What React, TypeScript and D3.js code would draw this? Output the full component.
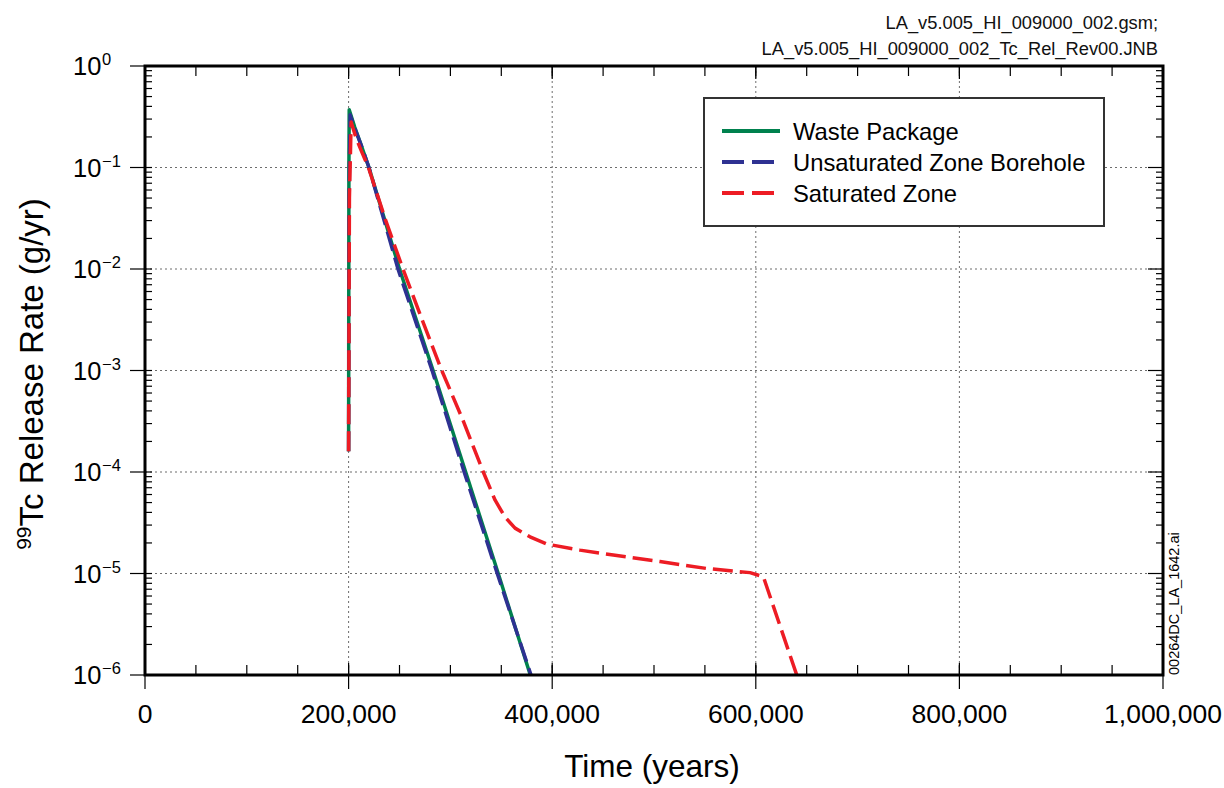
import React from "react";
import * as d3 from "d3";

// ---- data ----
const xTickValues = [0, 200000, 400000, 600000, 800000, 1000000];
const xTickLabels = ["0", "200,000", "400,000", "600,000", "800,000", "1,000,000"];
const yDecades = [0, -1, -2, -3, -4, -5, -6];
const yExponentLabels = ["0", "\u22121", "\u22122", "\u22123", "\u22124", "\u22125", "\u22126"];

const wasteTime = [200000, 200300, 200600, 206000, 212000, 220000, 250000, 283000, 315000, 347000, 378500];
const wasteRate = [1.6e-4, 0.1, 0.37, 0.25, 0.17, 0.1, 0.01, 1e-3, 1e-4, 1e-5, 1e-6];

const uzTime = [200000, 200500, 201500, 207000, 213000, 220000, 248500, 282000, 313500, 346000, 379200];
const uzRate = [1.6e-4, 0.05, 0.33, 0.23, 0.16, 0.1, 0.01, 1e-3, 1e-4, 1e-5, 1e-6];

const szTime = [
  200000, 200800, 202500, 207000, 212000, 219500, 236000, 253400, 272000, 291500,
  312000, 332300, 343800, 353600, 363500, 378200, 394600, 427300, 460000, 505900,
  551800, 594300, 607400, 640200, 645000,
];
const szRate = [
  1.6e-4, 0.05, 0.28, 0.2, 0.15, 0.1, 0.031, 0.01, 3.2e-3, 1e-3,
  3.3e-4, 1e-4, 5.3e-5, 3.6e-5, 2.8e-5, 2.3e-5, 1.95e-5, 1.7e-5, 1.52e-5, 1.31e-5,
  1.12e-5, 1.02e-5, 9.3e-6, 1e-6, 7.2e-7,
];

const seriesNames = ["Waste Package", "Unsaturated Zone Borehole", "Saturated Zone"];
const headerLines = ["LA_v5.005_HI_009000_002.gsm;", "LA_v5.005_HI_009000_002_Tc_Rel_Rev00.JNB"];

const FONT = "'Liberation Sans', Arial, Helvetica, sans-serif";

export default function App() {
  const W = 1224;
  const H = 788;
  const left = 145, right = 1163, top = 66, bottom = 675;

  const x = d3.scaleLinear().domain([0, 1000000]).range([left, right]);
  const y = d3.scaleLog().domain([1e-6, 1]).range([bottom, top]);

  const line = d3
    .line<[number, number]>()
    .x((d) => x(d[0]))
    .y((d) => y(d[1]));

  const zip = (t: number[], v: number[]) => t.map((tt, i) => [tt, v[i]] as [number, number]);

  const series = [
    { name: seriesNames[0], color: "#00814e", dash: undefined as string | undefined, data: zip(wasteTime, wasteRate) },
    { name: seriesNames[1], color: "#2e3192", dash: "20,7", data: zip(uzTime, uzRate) },
    { name: seriesNames[2], color: "#ed1c24", dash: "20,7", data: zip(szTime, szRate) },
  ];

  const minorX = d3.range(0, 1000001, 50000);
  const minorY: number[] = [];
  for (let d = -6; d < 0; d++) for (let k = 2; k <= 9; k++) minorY.push(k * Math.pow(10, d));

  return (
    <svg
      width={W}
      height={H}
      style={{ position: "absolute", left: 0, top: 0, background: "#fff" }}
      fontFamily={FONT}
    >
      <defs>
        <clipPath id="plotclip">
          <rect x={left} y={top} width={right - left} height={bottom - top} />
        </clipPath>
      </defs>
      <rect x={0} y={0} width={W} height={H} fill="#fff" />

      {/* header */}
      {headerLines.map((t, i) => (
        <text key={i} x={1158} y={29 + i * 26} textAnchor="end" fontSize={18.3} fill="#111">
          {t}
        </text>
      ))}

      {/* grid */}
      <g stroke="#6d6d6d" strokeWidth={1} strokeDasharray="2,3">
        {xTickValues.slice(1, -1).map((v) => (
          <line key={"gx" + v} x1={x(v)} x2={x(v)} y1={top} y2={bottom} />
        ))}
        {yDecades.slice(1, -1).map((d) => (
          <line key={"gy" + d} x1={left} x2={right} y1={y(Math.pow(10, d))} y2={y(Math.pow(10, d))} />
        ))}
      </g>

      {/* series */}
      <g clipPath="url(#plotclip)" fill="none">
        {series.map((s) => (
          <path
            key={s.name}
            d={line(s.data) || ""}
            stroke={s.color}
            strokeWidth={3.5}
            strokeDasharray={s.dash}
            strokeLinejoin="round"
          />
        ))}
      </g>

      {/* ticks */}
      <g stroke="#000" strokeWidth={1.2}>
        {minorX.map((v) => (
          <g key={"tx" + v}>
            <line x1={x(v)} x2={x(v)} y1={bottom} y2={bottom - 10} />
            <line x1={x(v)} x2={x(v)} y1={top} y2={top + 10} />
          </g>
        ))}
        {xTickValues.map((v) => (
          <g key={"TX" + v}>
            <line x1={x(v)} x2={x(v)} y1={bottom - 12} y2={bottom + 14} />
            <line x1={x(v)} x2={x(v)} y1={top} y2={top + 13} />
          </g>
        ))}
        {minorY.map((v, i) => (
          <g key={"ty" + i}>
            <line x1={left} x2={left + 7} y1={y(v)} y2={y(v)} />
            <line x1={right} x2={right - 7} y1={y(v)} y2={y(v)} />
          </g>
        ))}
        {yDecades.map((d) => (
          <g key={"TY" + d}>
            <line x1={left - 15} x2={left + 7} y1={y(Math.pow(10, d))} y2={y(Math.pow(10, d))} />
            <line x1={right} x2={right - 15} y1={y(Math.pow(10, d))} y2={y(Math.pow(10, d))} />
          </g>
        ))}
      </g>

      {/* frame */}
      <rect x={left} y={top} width={right - left} height={bottom - top} fill="none" stroke="#000" strokeWidth={3} />

      {/* y tick labels */}
      {yDecades.map((d, i) => {
        const yy = y(Math.pow(10, d));
        return (
          <g key={"ly" + d}>
            <text x={73} y={yy + 9} fontSize={25.5} fill="#000">
              10
            </text>
            <text x={102} y={yy - 1} fontSize={16.5} fill="#000">
              {yExponentLabels[i]}
            </text>
          </g>
        );
      })}

      {/* x tick labels */}
      {xTickValues.map((v, i) => (
        <text key={"lx" + v} x={x(v)} y={723} fontSize={26.5} textAnchor="middle" fill="#000">
          {xTickLabels[i]}
        </text>
      ))}

      {/* axis titles */}
      <text x={652} y={777} fontSize={31.5} textAnchor="middle" fill="#000">
        Time (years)
      </text>
      <text transform="translate(43,374) rotate(-90)" fontSize={33} textAnchor="middle" fill="#000">
        <tspan fontSize={21} dy={-12}>99</tspan>
        <tspan dy={12}>Tc Release Rate (g/yr)</tspan>
      </text>

      {/* right side id */}
      <text transform="translate(1179,675) rotate(-90)" fontSize={14.5} fill="#000">
        00264DC_LA_1642.ai
      </text>

      {/* legend */}
      <rect x={704} y={98} width={400} height={128} fill="#fff" stroke="#333" strokeWidth={2} />
      {series.map((s, i) => (
        <g key={"lg" + i}>
          <line
            x1={722}
            x2={780}
            y1={131 + i * 31}
            y2={131 + i * 31}
            stroke={s.color}
            strokeWidth={4}
            strokeDasharray={s.dash ? "22,8" : undefined}
          />
          <text x={793} y={139.5 + i * 31} fontSize={23.8} fill="#000">
            {s.name}
          </text>
        </g>
      ))}
    </svg>
  );
}
